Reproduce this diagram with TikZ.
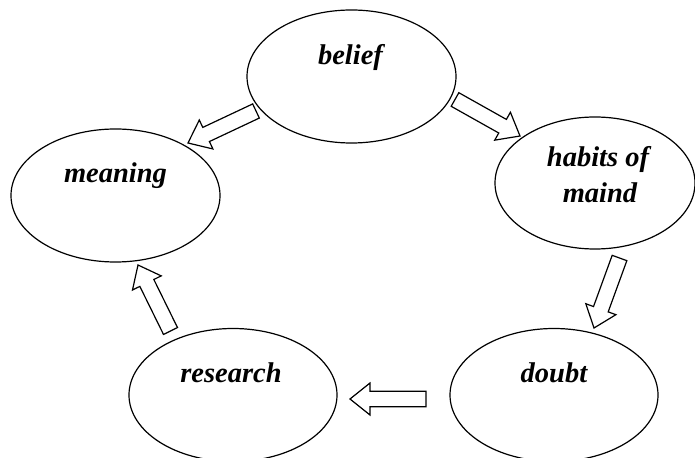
\documentclass[tikz,border=0pt]{standalone}
\usepackage{fontspec}
\setmainfont{Liberation Serif}
\usetikzlibrary{calc,shapes.geometric}
\tikzset{
  bubble/.style={draw=black, line width=1.2bp, ellipse, inner sep=0pt,
    minimum width=209bp, minimum height=133bp},
  word/.style={anchor=base, inner sep=0pt,
    font=\fontsize{28.5bp}{36bp}\selectfont\bfseries\itshape},
  barrow/.style={draw=black, line width=1.2bp, line join=miter, fill=white}
}
\newcommand\blockarrow[2]{%
  \path ($(#2)!20bp!(#1)$) coordinate (hb);
  \draw[barrow] ($(#1)!7.8bp!90:(#2)$) -- ($(hb)!7.8bp!-90:(#1)$)
    -- ($(hb)!16bp!-90:(#1)$) -- (#2) -- ($(hb)!16bp!90:(#1)$)
    -- ($(hb)!7.8bp!90:(#1)$) -- ($(#1)!7.8bp!-90:(#2)$) -- cycle;
}
\begin{document}
\begin{tikzpicture}[x=1bp, y=-1bp]
\fill[white] (0,0) rectangle (695,458);
\useasboundingbox (0,0) rectangle (695,458);

\node[bubble] (belief) at (351.5,76.5) {};
\node[bubble] (meaning) at (115.5,195.5) {};
\node[bubble, minimum width=200bp, minimum height=132bp] (habits) at (595,183) {};
\node[bubble, minimum width=208bp] (doubt) at (554,395) {};
\node[bubble, minimum width=208bp] (research) at (233,395) {};

\node[word] (tbelief) at (350.5,65) {belief};
\node[word] (tmeaning) at (115.5,183) {meaning};
\node[word] (thabitsa) at (598,167) {habits of};
\node[word] (thabitsb) at (600,203) {maind};
\node[word] (tdoubt) at (554,382) {doubt};
\node[word] (tresearch) at (231,382) {research};

\coordinate (a1s) at (256,111);   \coordinate (a1e) at (188,143);
\coordinate (a2s) at (455,99.5);  \coordinate (a2e) at (520,136);
\coordinate (a3s) at (619.5,258); \coordinate (a3e) at (594,328);
\coordinate (a4s) at (426,399);   \coordinate (a4e) at (350,399);
\coordinate (a5s) at (170.5,331); \coordinate (a5e) at (138,265);

\blockarrow{a1s}{a1e}
\blockarrow{a2s}{a2e}
\blockarrow{a3s}{a3e}
\blockarrow{a4s}{a4e}
\blockarrow{a5s}{a5e}
\end{tikzpicture}
\end{document}
